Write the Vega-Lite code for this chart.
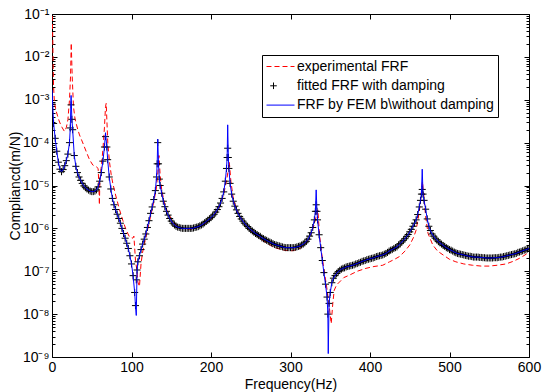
{
  "$schema": "https://vega.github.io/schema/vega-lite/v6.json",
  "autosize": {"type": "none"},
  "padding": {"left": 52, "top": 14, "right": 20, "bottom": 35},
  "width": 477,
  "height": 343,
  "background": "#ffffff",
  "datasets": {
    "fit": [
      {"f":0,"fit":7.9e-4,"fem":1.7e-3},{"f":2,"fit":2.8e-4,"fem":2.8e-4},{"f":4,"fit":1.26e-4,"fem":1.26e-4},{"f":6,"fit":6.3e-5,"fem":6.3e-5},{"f":8,"fit":3.5e-5,"fem":3.5e-5},{"f":10,"fit":2.4e-5,"fem":2.4e-5},{"f":12,"fit":2.1e-5,"fem":2.1e-5},{"f":14,"fit":2.35e-5,"fem":2.35e-5},{"f":16,"fit":2.9e-5,"fem":2.9e-5},{"f":18,"fit":3.8e-5,"fem":3.8e-5},{"f":20,"fit":5.4e-5,"fem":5.4e-5},{"f":22,"fit":1.0e-4,"fem":1.0e-4},{"f":23,"fit":2.2e-4,"fem":2.2e-4},{"f":24,"fit":7.6e-4,"fem":1.26e-3},{"f":25,"fit":3.5e-4,"fem":3.5e-4},{"f":26,"fit":2.0e-4,"fem":2.0e-4},{"f":28,"fit":5.0e-5,"fem":5.0e-5},{"f":30,"fit":2.8e-5,"fem":2.8e-5},{"f":32,"fit":2.0e-5,"fem":2.0e-5},{"f":34,"fit":1.58e-5,"fem":1.58e-5},{"f":36,"fit":1.32e-5,"fem":1.32e-5},{"f":38,"fit":1.12e-5,"fem":1.12e-5},{"f":40,"fit":9.8e-6,"fem":9.8e-6},{"f":42,"fit":8.9e-6,"fem":8.9e-6},{"f":44,"fit":8.3e-6,"fem":8.3e-6},{"f":46,"fit":7.8e-6,"fem":7.8e-6},{"f":48,"fit":7.4e-6,"fem":7.4e-6},{"f":50,"fit":7.2e-6,"fem":7.2e-6},{"f":52,"fit":7.2e-6,"fem":7.2e-6},{"f":54,"fit":7.4e-6,"fem":7.4e-6},{"f":56,"fit":7.9e-6,"fem":7.9e-6},{"f":58,"fit":9.3e-6,"fem":9.3e-6},{"f":60,"fit":1.26e-5,"fem":1.26e-5},{"f":62,"fit":2.0e-5,"fem":2.0e-5},{"f":64,"fit":3.7e-5,"fem":3.7e-5},{"f":66,"fit":7.9e-5,"fem":7.9e-5},{"f":67.3,"fit":1.38e-4,"fem":1.7e-4},{"f":69,"fit":7.9e-5,"fem":7.9e-5},{"f":70,"fit":4.0e-5,"fem":4.0e-5},{"f":72,"fit":1.58e-5,"fem":1.58e-5},{"f":74,"fit":8.3e-6,"fem":8.3e-6},{"f":76,"fit":5.0e-6,"fem":5.0e-6},{"f":78,"fit":3.55e-6,"fem":3.55e-6},{"f":80,"fit":2.75e-6,"fem":2.75e-6},{"f":82,"fit":2.14e-6,"fem":2.14e-6},{"f":84,"fit":1.7e-6,"fem":1.7e-6},{"f":86,"fit":1.32e-6,"fem":1.32e-6},{"f":88,"fit":1.0e-6,"fem":1.0e-6},{"f":90,"fit":7.6e-7,"fem":7.6e-7},{"f":92,"fit":5.9e-7,"fem":5.9e-7},{"f":94,"fit":4.5e-7,"fem":4.5e-7},{"f":96,"fit":3.4e-7,"fem":3.4e-7},{"f":98,"fit":2.3e-7,"fem":2.3e-7},{"f":100,"fit":1.48e-7,"fem":1.48e-7},{"f":102,"fit":7.9e-8,"fem":7.9e-8},{"f":104,"fit":3.2e-8,"fem":3.2e-8},{"f":105,"fit":1.58e-8,"fem":1.58e-8},{"f":106,"fit":6.3e-8,"fem":9.3e-9},{"f":107,"fit":1.07e-7,"fem":1.07e-7},{"f":108,"fit":1.66e-7,"fem":1.66e-7},{"f":110,"fit":2.3e-7,"fem":2.3e-7},{"f":112,"fit":3.2e-7,"fem":3.2e-7},{"f":114,"fit":4.3e-7,"fem":4.3e-7},{"f":116,"fit":5.6e-7,"fem":5.6e-7},{"f":118,"fit":7.4e-7,"fem":7.4e-7},{"f":120,"fit":1.05e-6,"fem":1.05e-6},{"f":122,"fit":1.51e-6,"fem":1.51e-6},{"f":124,"fit":2.24e-6,"fem":2.24e-6},{"f":126,"fit":3.16e-6,"fem":3.16e-6},{"f":128,"fit":4.7e-6,"fem":4.7e-6},{"f":130,"fit":7.6e-6,"fem":7.6e-6},{"f":131.5,"fit":1.58e-5,"fem":1.58e-5},{"f":132.3,"fit":3.2e-5,"fem":3.2e-5},{"f":133,"fit":1.0e-4,"fem":1.2e-4},{"f":134,"fit":3.2e-5,"fem":3.2e-5},{"f":135,"fit":1.41e-5,"fem":1.41e-5},{"f":136,"fit":1.0e-5,"fem":1.0e-5},{"f":138,"fit":6.6e-6,"fem":6.6e-6},{"f":140,"fit":4.3e-6,"fem":4.3e-6},{"f":142,"fit":3.2e-6,"fem":3.2e-6},{"f":144,"fit":2.5e-6,"fem":2.5e-6},{"f":146,"fit":2.04e-6,"fem":2.04e-6},{"f":148,"fit":1.7e-6,"fem":1.7e-6},{"f":150,"fit":1.48e-6,"fem":1.48e-6},{"f":152,"fit":1.32e-6,"fem":1.32e-6},{"f":154,"fit":1.2e-6,"fem":1.2e-6},{"f":156,"fit":1.12e-6,"fem":1.12e-6},{"f":158,"fit":1.07e-6,"fem":1.07e-6},{"f":160,"fit":1.05e-6,"fem":1.05e-6},{"f":162,"fit":1.02e-6,"fem":1.02e-6},{"f":164,"fit":1.0e-6,"fem":1.0e-6},{"f":166,"fit":1.0e-6,"fem":1.0e-6},{"f":168,"fit":1.0e-6,"fem":1.0e-6},{"f":170,"fit":1.0e-6,"fem":1.0e-6},{"f":172,"fit":1.0e-6,"fem":1.0e-6},{"f":174,"fit":1.0e-6,"fem":1.0e-6},{"f":176,"fit":1.0e-6,"fem":1.0e-6},{"f":178,"fit":1.02e-6,"fem":1.02e-6},{"f":180,"fit":1.05e-6,"fem":1.05e-6},{"f":182,"fit":1.07e-6,"fem":1.07e-6},{"f":184,"fit":1.1e-6,"fem":1.1e-6},{"f":186,"fit":1.15e-6,"fem":1.15e-6},{"f":188,"fit":1.2e-6,"fem":1.2e-6},{"f":190,"fit":1.26e-6,"fem":1.26e-6},{"f":192,"fit":1.35e-6,"fem":1.35e-6},{"f":194,"fit":1.45e-6,"fem":1.45e-6},{"f":196,"fit":1.55e-6,"fem":1.55e-6},{"f":198,"fit":1.66e-6,"fem":1.66e-6},{"f":200,"fit":1.78e-6,"fem":1.78e-6},{"f":202,"fit":1.95e-6,"fem":1.95e-6},{"f":204,"fit":2.14e-6,"fem":2.14e-6},{"f":206,"fit":2.4e-6,"fem":2.4e-6},{"f":208,"fit":2.75e-6,"fem":2.75e-6},{"f":210,"fit":3.2e-6,"fem":3.2e-6},{"f":212,"fit":3.9e-6,"fem":3.9e-6},{"f":214,"fit":5.0e-6,"fem":5.0e-6},{"f":216,"fit":7.1e-6,"fem":7.1e-6},{"f":218,"fit":1.26e-5,"fem":1.26e-5},{"f":219.5,"fit":2.5e-5,"fem":2.5e-5},{"f":220.3,"fit":4.5e-5,"fem":4.5e-5},{"f":221,"fit":7.4e-5,"fem":2.6e-4},{"f":221.8,"fit":4.5e-5,"fem":4.5e-5},{"f":222.5,"fit":2.5e-5,"fem":2.5e-5},{"f":224,"fit":1.12e-5,"fem":1.12e-5},{"f":226,"fit":6.3e-6,"fem":6.3e-6},{"f":228,"fit":4.3e-6,"fem":4.3e-6},{"f":230,"fit":3.3e-6,"fem":3.3e-6},{"f":232,"fit":2.7e-6,"fem":2.7e-6},{"f":234,"fit":2.24e-6,"fem":2.24e-6},{"f":236,"fit":1.9e-6,"fem":1.9e-6},{"f":238,"fit":1.66e-6,"fem":1.66e-6},{"f":240,"fit":1.48e-6,"fem":1.48e-6},{"f":242,"fit":1.32e-6,"fem":1.32e-6},{"f":244,"fit":1.2e-6,"fem":1.2e-6},{"f":246,"fit":1.1e-6,"fem":1.1e-6},{"f":248,"fit":1.0e-6,"fem":1.0e-6},{"f":250,"fit":9.3e-7,"fem":9.3e-7},{"f":252,"fit":8.7e-7,"fem":8.7e-7},{"f":254,"fit":8.1e-7,"fem":8.1e-7},{"f":256,"fit":7.6e-7,"fem":7.6e-7},{"f":258,"fit":7.2e-7,"fem":7.2e-7},{"f":260,"fit":6.8e-7,"fem":6.8e-7},{"f":262,"fit":6.5e-7,"fem":6.5e-7},{"f":264,"fit":6.0e-7,"fem":6.0e-7},{"f":266,"fit":5.75e-7,"fem":5.75e-7},{"f":268,"fit":5.5e-7,"fem":5.5e-7},{"f":270,"fit":5.25e-7,"fem":5.25e-7},{"f":272,"fit":5.0e-7,"fem":5.0e-7},{"f":274,"fit":4.8e-7,"fem":4.8e-7},{"f":276,"fit":4.6e-7,"fem":4.6e-7},{"f":278,"fit":4.4e-7,"fem":4.4e-7},{"f":280,"fit":4.2e-7,"fem":4.2e-7},{"f":282,"fit":4.1e-7,"fem":4.1e-7},{"f":284,"fit":4.0e-7,"fem":4.0e-7},{"f":286,"fit":3.9e-7,"fem":3.9e-7},{"f":288,"fit":3.8e-7,"fem":3.8e-7},{"f":290,"fit":3.7e-7,"fem":3.7e-7},{"f":292,"fit":3.6e-7,"fem":3.6e-7},{"f":294,"fit":3.55e-7,"fem":3.55e-7},{"f":296,"fit":3.55e-7,"fem":3.55e-7},{"f":298,"fit":3.55e-7,"fem":3.55e-7},{"f":300,"fit":3.55e-7,"fem":3.55e-7},{"f":302,"fit":3.55e-7,"fem":3.55e-7},{"f":304,"fit":3.55e-7,"fem":3.55e-7},{"f":306,"fit":3.6e-7,"fem":3.6e-7},{"f":308,"fit":3.7e-7,"fem":3.7e-7},{"f":310,"fit":3.8e-7,"fem":3.8e-7},{"f":312,"fit":3.9e-7,"fem":3.9e-7},{"f":314,"fit":4.1e-7,"fem":4.1e-7},{"f":316,"fit":4.3e-7,"fem":4.3e-7},{"f":318,"fit":4.6e-7,"fem":4.6e-7},{"f":320,"fit":5.0e-7,"fem":5.0e-7},{"f":322,"fit":5.6e-7,"fem":5.6e-7},{"f":324,"fit":6.6e-7,"fem":6.6e-7},{"f":326,"fit":7.9e-7,"fem":7.9e-7},{"f":328,"fit":1.05e-6,"fem":1.05e-6},{"f":330,"fit":1.58e-6,"fem":1.58e-6},{"f":331.3,"fit":2.5e-6,"fem":2.5e-6},{"f":332.3,"fit":3.55e-6,"fem":7.9e-6},{"f":333.3,"fit":2.5e-6,"fem":2.5e-6},{"f":334,"fit":1.58e-6,"fem":1.58e-6},{"f":336,"fit":7.1e-7,"fem":7.1e-7},{"f":338,"fit":3.55e-7,"fem":3.55e-7},{"f":340,"fit":1.78e-7,"fem":1.78e-7},{"f":342,"fit":9.3e-8,"fem":9.3e-8},{"f":344,"fit":5.0e-8,"fem":5.0e-8},{"f":346,"fit":2.5e-8,"fem":2.5e-8},{"f":347,"fit":1.0e-8,"fem":1.0e-8},{"f":347.5,"fit":null,"fem":1.2e-9},{"f":348.5,"fit":1.78e-8,"fem":1.78e-8},{"f":350,"fit":3.2e-8,"fem":3.2e-8},{"f":352,"fit":5.4e-8,"fem":5.4e-8},{"f":354,"fit":6.9e-8,"fem":6.9e-8},{"f":356,"fit":7.9e-8,"fem":7.9e-8},{"f":358,"fit":8.9e-8,"fem":8.9e-8},{"f":360,"fit":9.8e-8,"fem":9.8e-8},{"f":362,"fit":1.05e-7,"fem":1.05e-7},{"f":364,"fit":1.12e-7,"fem":1.12e-7},{"f":366,"fit":1.17e-7,"fem":1.17e-7},{"f":368,"fit":1.2e-7,"fem":1.2e-7},{"f":370,"fit":1.26e-7,"fem":1.26e-7},{"f":372,"fit":1.29e-7,"fem":1.29e-7},{"f":374,"fit":1.32e-7,"fem":1.32e-7},{"f":376,"fit":1.35e-7,"fem":1.35e-7},{"f":378,"fit":1.38e-7,"fem":1.38e-7},{"f":380,"fit":1.41e-7,"fem":1.41e-7},{"f":382,"fit":1.48e-7,"fem":1.48e-7},{"f":384,"fit":1.51e-7,"fem":1.51e-7},{"f":386,"fit":1.58e-7,"fem":1.58e-7},{"f":388,"fit":1.62e-7,"fem":1.62e-7},{"f":390,"fit":1.7e-7,"fem":1.7e-7},{"f":392,"fit":1.74e-7,"fem":1.74e-7},{"f":394,"fit":1.78e-7,"fem":1.78e-7},{"f":396,"fit":1.86e-7,"fem":1.86e-7},{"f":398,"fit":1.9e-7,"fem":1.9e-7},{"f":400,"fit":1.95e-7,"fem":1.95e-7},{"f":402,"fit":2.0e-7,"fem":2.0e-7},{"f":404,"fit":2.04e-7,"fem":2.04e-7},{"f":406,"fit":2.1e-7,"fem":2.1e-7},{"f":408,"fit":2.2e-7,"fem":2.2e-7},{"f":410,"fit":2.24e-7,"fem":2.24e-7},{"f":412,"fit":2.3e-7,"fem":2.3e-7},{"f":414,"fit":2.34e-7,"fem":2.34e-7},{"f":416,"fit":2.4e-7,"fem":2.4e-7},{"f":418,"fit":2.5e-7,"fem":2.5e-7},{"f":420,"fit":2.6e-7,"fem":2.6e-7},{"f":422,"fit":2.75e-7,"fem":2.75e-7},{"f":424,"fit":2.95e-7,"fem":2.95e-7},{"f":426,"fit":3.1e-7,"fem":3.1e-7},{"f":428,"fit":3.2e-7,"fem":3.2e-7},{"f":430,"fit":3.4e-7,"fem":3.4e-7},{"f":432,"fit":3.55e-7,"fem":3.55e-7},{"f":434,"fit":3.7e-7,"fem":3.7e-7},{"f":436,"fit":4.1e-7,"fem":4.1e-7},{"f":438,"fit":4.4e-7,"fem":4.4e-7},{"f":440,"fit":4.8e-7,"fem":4.8e-7},{"f":442,"fit":5.25e-7,"fem":5.25e-7},{"f":444,"fit":5.75e-7,"fem":5.75e-7},{"f":446,"fit":6.5e-7,"fem":6.5e-7},{"f":448,"fit":7.2e-7,"fem":7.2e-7},{"f":450,"fit":8.3e-7,"fem":8.3e-7},{"f":452,"fit":9.5e-7,"fem":9.5e-7},{"f":454,"fit":1.12e-6,"fem":1.12e-6},{"f":456,"fit":1.32e-6,"fem":1.32e-6},{"f":458,"fit":1.58e-6,"fem":1.58e-6},{"f":460,"fit":2.1e-6,"fem":2.1e-6},{"f":462,"fit":3.16e-6,"fem":3.16e-6},{"f":463.5,"fit":4.5e-6,"fem":4.5e-6},{"f":464.7,"fit":6.3e-6,"fem":6.3e-6},{"f":465.7,"fit":8.1e-6,"fem":2.4e-5},{"f":466.7,"fit":6.3e-6,"fem":6.3e-6},{"f":468,"fit":4.5e-6,"fem":4.5e-6},{"f":470,"fit":2.8e-6,"fem":2.8e-6},{"f":472,"fit":1.66e-6,"fem":1.66e-6},{"f":474,"fit":1.12e-6,"fem":1.12e-6},{"f":476,"fit":8.9e-7,"fem":8.9e-7},{"f":478,"fit":7.4e-7,"fem":7.4e-7},{"f":480,"fit":6.6e-7,"fem":6.6e-7},{"f":482,"fit":5.9e-7,"fem":5.9e-7},{"f":484,"fit":5.4e-7,"fem":5.4e-7},{"f":486,"fit":4.9e-7,"fem":4.9e-7},{"f":488,"fit":4.6e-7,"fem":4.6e-7},{"f":490,"fit":4.3e-7,"fem":4.3e-7},{"f":492,"fit":4.0e-7,"fem":4.0e-7},{"f":494,"fit":3.8e-7,"fem":3.8e-7},{"f":496,"fit":3.55e-7,"fem":3.55e-7},{"f":498,"fit":3.4e-7,"fem":3.4e-7},{"f":500,"fit":3.2e-7,"fem":3.2e-7},{"f":502,"fit":3.1e-7,"fem":3.1e-7},{"f":504,"fit":2.95e-7,"fem":2.95e-7},{"f":506,"fit":2.8e-7,"fem":2.8e-7},{"f":508,"fit":2.7e-7,"fem":2.7e-7},{"f":510,"fit":2.6e-7,"fem":2.6e-7},{"f":512,"fit":2.55e-7,"fem":2.55e-7},{"f":514,"fit":2.5e-7,"fem":2.5e-7},{"f":516,"fit":2.45e-7,"fem":2.45e-7},{"f":518,"fit":2.4e-7,"fem":2.4e-7},{"f":520,"fit":2.34e-7,"fem":2.34e-7},{"f":522,"fit":2.3e-7,"fem":2.3e-7},{"f":524,"fit":2.24e-7,"fem":2.24e-7},{"f":526,"fit":2.24e-7,"fem":2.24e-7},{"f":528,"fit":2.2e-7,"fem":2.2e-7},{"f":530,"fit":2.14e-7,"fem":2.14e-7},{"f":532,"fit":2.14e-7,"fem":2.14e-7},{"f":534,"fit":2.14e-7,"fem":2.14e-7},{"f":536,"fit":2.14e-7,"fem":2.14e-7},{"f":538,"fit":2.1e-7,"fem":2.1e-7},{"f":540,"fit":2.1e-7,"fem":2.1e-7},{"f":542,"fit":2.07e-7,"fem":2.07e-7},{"f":544,"fit":2.07e-7,"fem":2.07e-7},{"f":546,"fit":2.04e-7,"fem":2.04e-7},{"f":548,"fit":2.04e-7,"fem":2.04e-7},{"f":550,"fit":2.04e-7,"fem":2.04e-7},{"f":552,"fit":2.04e-7,"fem":2.04e-7},{"f":554,"fit":2.04e-7,"fem":2.04e-7},{"f":556,"fit":2.07e-7,"fem":2.07e-7},{"f":558,"fit":2.07e-7,"fem":2.07e-7},{"f":560,"fit":2.07e-7,"fem":2.07e-7},{"f":562,"fit":2.1e-7,"fem":2.1e-7},{"f":564,"fit":2.14e-7,"fem":2.14e-7},{"f":566,"fit":2.14e-7,"fem":2.14e-7},{"f":568,"fit":2.2e-7,"fem":2.2e-7},{"f":570,"fit":2.24e-7,"fem":2.24e-7},{"f":572,"fit":2.3e-7,"fem":2.3e-7},{"f":574,"fit":2.34e-7,"fem":2.34e-7},{"f":576,"fit":2.4e-7,"fem":2.4e-7},{"f":578,"fit":2.45e-7,"fem":2.45e-7},{"f":580,"fit":2.5e-7,"fem":2.5e-7},{"f":582,"fit":2.55e-7,"fem":2.55e-7},{"f":584,"fit":2.6e-7,"fem":2.6e-7},{"f":586,"fit":2.75e-7,"fem":2.75e-7},{"f":588,"fit":2.8e-7,"fem":2.8e-7},{"f":590,"fit":2.9e-7,"fem":2.9e-7},{"f":592,"fit":3.0e-7,"fem":3.0e-7},{"f":594,"fit":3.1e-7,"fem":3.1e-7},{"f":596,"fit":3.16e-7,"fem":3.16e-7},{"f":598,"fit":3.3e-7,"fem":3.3e-7},{"f":600,"fit":3.4e-7,"fem":3.4e-7}
    ],
    "exp": [
      {"f":0.3,"exp":9.0e-2},{"f":1,"exp":2.5e-2},{"f":1.5,"exp":5.0e-3},{"f":2,"exp":2.0e-3},{"f":3,"exp":8.9e-4},{"f":5,"exp":5.6e-4},{"f":7,"exp":4.2e-4},{"f":9,"exp":3.2e-4},{"f":11,"exp":2.6e-4},{"f":13,"exp":2.2e-4},{"f":15.7,"exp":1.82e-4},{"f":18,"exp":2.24e-4},{"f":20,"exp":3.4e-4},{"f":22,"exp":1.0e-3},{"f":23.3,"exp":3.5e-3},{"f":24.2,"exp":2.1e-2},{"f":25.4,"exp":3.5e-3},{"f":27,"exp":6.9e-4},{"f":29,"exp":3.55e-4},{"f":30.4,"exp":2.8e-4},{"f":32.5,"exp":2.0e-4},{"f":34.6,"exp":1.51e-4},{"f":38.8,"exp":9.8e-5},{"f":43,"exp":6.2e-5},{"f":47.2,"exp":4.0e-5},{"f":51.3,"exp":3.0e-5},{"f":55.6,"exp":2.75e-5},{"f":58,"exp":2.5e-5},{"f":59,"exp":1.0e-5},{"f":59.6,"exp":3.55e-6},{"f":60.2,"exp":1.26e-5},{"f":62,"exp":2.75e-5},{"f":64,"exp":6.8e-5},{"f":66,"exp":2.3e-4},{"f":67.3,"exp":6.9e-4},{"f":68.2,"exp":8.3e-4},{"f":69,"exp":3.4e-4},{"f":70.2,"exp":9.8e-5},{"f":72.3,"exp":3.55e-5},{"f":74.5,"exp":1.78e-5},{"f":76.5,"exp":1.12e-5},{"f":80,"exp":6.0e-6},{"f":85,"exp":2.7e-6},{"f":89,"exp":1.55e-6},{"f":93.3,"exp":9.1e-7},{"f":97.5,"exp":6.3e-7},{"f":101.6,"exp":5.9e-7},{"f":103,"exp":6.6e-7},{"f":105,"exp":1.82e-7},{"f":106.7,"exp":1.07e-7},{"f":108,"exp":5.6e-8},{"f":110,"exp":4.4e-8},{"f":112,"exp":1.51e-7},{"f":114,"exp":2.8e-7},{"f":116.4,"exp":4.5e-7},{"f":120,"exp":8.9e-7},{"f":124,"exp":1.9e-6},{"f":128,"exp":4.2e-6},{"f":131,"exp":7.9e-6},{"f":133,"exp":1.78e-5},{"f":134.5,"exp":5.0e-5},{"f":136,"exp":1.78e-5},{"f":138,"exp":7.9e-6},{"f":141,"exp":4.2e-6},{"f":145,"exp":2.5e-6},{"f":150,"exp":1.66e-6},{"f":156,"exp":1.2e-6},{"f":164,"exp":1.0e-6},{"f":175,"exp":9.5e-7},{"f":185,"exp":1.07e-6},{"f":195,"exp":1.38e-6},{"f":203,"exp":1.9e-6},{"f":210,"exp":3.0e-6},{"f":216,"exp":6.3e-6},{"f":220,"exp":1.41e-5},{"f":223,"exp":3.55e-5},{"f":225,"exp":1.26e-5},{"f":228,"exp":5.0e-6},{"f":232,"exp":2.8e-6},{"f":238,"exp":1.66e-6},{"f":248,"exp":9.5e-7},{"f":258,"exp":6.6e-7},{"f":268,"exp":4.8e-7},{"f":280,"exp":3.55e-7},{"f":292,"exp":3.1e-7},{"f":302,"exp":3.0e-7},{"f":312,"exp":3.4e-7},{"f":320,"exp":4.7e-7},{"f":326,"exp":7.6e-7},{"f":330,"exp":1.26e-6},{"f":332.5,"exp":2.0e-6},{"f":334.4,"exp":2.7e-6},{"f":336.5,"exp":7.1e-7},{"f":339,"exp":2.8e-7},{"f":342,"exp":1.12e-7},{"f":345,"exp":5.0e-8},{"f":348,"exp":2.0e-8},{"f":351.2,"exp":6.0e-9},{"f":353.2,"exp":1.78e-8},{"f":355,"exp":3.6e-8},{"f":358,"exp":4.8e-8},{"f":361.6,"exp":5.6e-8},{"f":367,"exp":7.1e-8},{"f":374,"exp":8.1e-8},{"f":384,"exp":1.0e-7},{"f":395,"exp":1.17e-7},{"f":405,"exp":1.29e-7},{"f":416,"exp":1.38e-7},{"f":424.5,"exp":1.66e-7},{"f":430,"exp":1.86e-7},{"f":437,"exp":2.2e-7},{"f":444,"exp":2.95e-7},{"f":450,"exp":4.1e-7},{"f":455,"exp":6.3e-7},{"f":458,"exp":9.1e-7},{"f":462,"exp":2.45e-6},{"f":464.5,"exp":6.3e-6},{"f":466,"exp":1.23e-5},{"f":468,"exp":5.0e-6},{"f":470,"exp":1.86e-6},{"f":473,"exp":7.6e-7},{"f":479,"exp":4.1e-7},{"f":485,"exp":2.95e-7},{"f":492,"exp":2.4e-7},{"f":500,"exp":1.9e-7},{"f":508,"exp":1.66e-7},{"f":518,"exp":1.48e-7},{"f":529,"exp":1.38e-7},{"f":540,"exp":1.32e-7},{"f":550,"exp":1.32e-7},{"f":560,"exp":1.38e-7},{"f":571,"exp":1.48e-7},{"f":580,"exp":1.7e-7},{"f":588,"exp":2.0e-7},{"f":595,"exp":2.4e-7},{"f":600,"exp":2.8e-7}
    ]
  },
  "layer": [
    {
      "data": {"name": "exp"},
      "mark": {"type": "line", "color": "#ff0000", "strokeDash": [5, 3], "strokeWidth": 1, "clip": true},
      "encoding": {
        "x": {"field": "f", "type": "quantitative", "scale": {"domain": [0, 600], "nice": false, "zero": false},
          "axis": {"orient": "bottom", "values": [0, 100, 200, 300, 400, 500, 600], "tickSize": -5, "labelPadding": 8, "title": "Frequency(Hz)", "titlePadding": 3, "labelFlush": false}},
        "y": {"field": "exp", "type": "quantitative", "scale": {"type": "log", "domain": [1e-9, 1e-1], "nice": false},
          "axis": {"orient": "left", "title": "Compliancd(m/N)", "titlePadding": 0, "labelPadding": 8, "labelOverlap": false, "labelBound": false, "labelFlush": false,
            "values": [1e-9,2e-9,3e-9,4e-9,5e-9,6e-9,7e-9,8e-9,9e-9,1e-8,2e-8,3e-8,4e-8,5e-8,6e-8,7e-8,8e-8,9e-8,1e-7,2e-7,3e-7,4e-7,5e-7,6e-7,7e-7,8e-7,9e-7,1e-6,2e-6,3e-6,4e-6,5e-6,6e-6,7e-6,8e-6,9e-6,1e-5,2e-5,3e-5,4e-5,5e-5,6e-5,7e-5,8e-5,9e-5,1e-4,2e-4,3e-4,4e-4,5e-4,6e-4,7e-4,8e-4,9e-4,1e-3,2e-3,3e-3,4e-3,5e-3,6e-3,7e-3,8e-3,9e-3,1e-2,2e-2,3e-2,4e-2,5e-2,6e-2,7e-2,8e-2,9e-2,1e-1],
            "labelExpr": "abs(log(datum.value)/LN10 - round(log(datum.value)/LN10)) < 0.01 ? '10' + '⁻' + ['⁰','¹','²','³','⁴','⁵','⁶','⁷','⁸','⁹'][-round(log(datum.value)/LN10)] : ''",
            "tickSize": {"condition": {"test": "abs(log(datum.value)/LN10 - round(log(datum.value)/LN10)) < 0.01", "value": -5}, "value": -3}}}
      }
    },
    {
      "data": {"name": "fit"},
      "mark": {"type": "point", "filled": false, "strokeWidth": 1, "size": 225, "opacity": 1, "clip": true},
      "encoding": {
        "x": {"field": "f", "type": "quantitative", "scale": {"domain": [0, 600], "nice": false, "zero": false},
          "axis": {"orient": "top", "values": [0, 100, 200, 300, 400, 500, 600], "tickSize": -5, "labels": false, "title": null}},
        "y": {"field": "fit", "type": "quantitative", "scale": {"type": "log", "domain": [1e-9, 1e-1], "nice": false},
          "axis": {"orient": "right", "labels": false, "title": null,
            "values": [1e-9,2e-9,3e-9,4e-9,5e-9,6e-9,7e-9,8e-9,9e-9,1e-8,2e-8,3e-8,4e-8,5e-8,6e-8,7e-8,8e-8,9e-8,1e-7,2e-7,3e-7,4e-7,5e-7,6e-7,7e-7,8e-7,9e-7,1e-6,2e-6,3e-6,4e-6,5e-6,6e-6,7e-6,8e-6,9e-6,1e-5,2e-5,3e-5,4e-5,5e-5,6e-5,7e-5,8e-5,9e-5,1e-4,2e-4,3e-4,4e-4,5e-4,6e-4,7e-4,8e-4,9e-4,1e-3,2e-3,3e-3,4e-3,5e-3,6e-3,7e-3,8e-3,9e-3,1e-2,2e-2,3e-2,4e-2,5e-2,6e-2,7e-2,8e-2,9e-2,1e-1],
            "tickSize": {"condition": {"test": "abs(log(datum.value)/LN10 - round(log(datum.value)/LN10)) < 0.01", "value": -5}, "value": -3}}},
        "color": {"datum": "fitted FRF with damping", "type": "nominal",
          "scale": {"domain": ["experimental FRF", "fitted FRF with damping", "FRF by FEM b\\without damping"], "range": ["#ff0000", "#000000", "#0000ff"]},
          "legend": {"orient": "none", "legendX": 210, "legendY": 41, "title": null, "symbolSize": 196, "symbolStrokeWidth": 1, "labelFont": "Liberation Sans", "labelFontSize": 14, "labelColor": "#000000", "labelOffset": 16, "labelLimit": 400, "rowPadding": 4.3, "padding": 4, "strokeColor": "#000000", "fillColor": "#ffffff"}},
        "shape": {"datum": "fitted FRF with damping", "type": "nominal",
          "scale": {"domain": ["experimental FRF", "fitted FRF with damping", "FRF by FEM b\\without damping"], "range": ["M-1,0H-0.29M0.14,0H0.86M1.29,0H2M2.43,0H3", "M-0.47,0H0.47M0,-0.47V0.47", "M-1,0H3"]},
          "legend": {"orient": "none", "legendX": 210, "legendY": 41, "title": null}}
      }
    },
    {
      "data": {"name": "fit"},
      "mark": {"type": "line", "color": "#0000ff", "strokeWidth": 1, "clip": true},
      "encoding": {
        "x": {"field": "f", "type": "quantitative", "scale": {"domain": [0, 600], "nice": false, "zero": false}, "axis": null},
        "y": {"field": "fem", "type": "quantitative", "scale": {"type": "log", "domain": [1e-9, 1e-1], "nice": false}, "axis": null}
      }
    }
  ],
  "resolve": {"axis": {"x": "independent", "y": "independent"}},
  "config": {
    "view": {"stroke": "#000000", "strokeWidth": 1},
    "axis": {"grid": false, "domain": false, "tickColor": "#000000", "tickWidth": 1, "labelColor": "#000000", "titleColor": "#000000", "labelFont": "Liberation Sans", "titleFont": "Liberation Sans", "labelFontSize": 14, "titleFontSize": 14, "titleFontWeight": "normal"}
  }
}
